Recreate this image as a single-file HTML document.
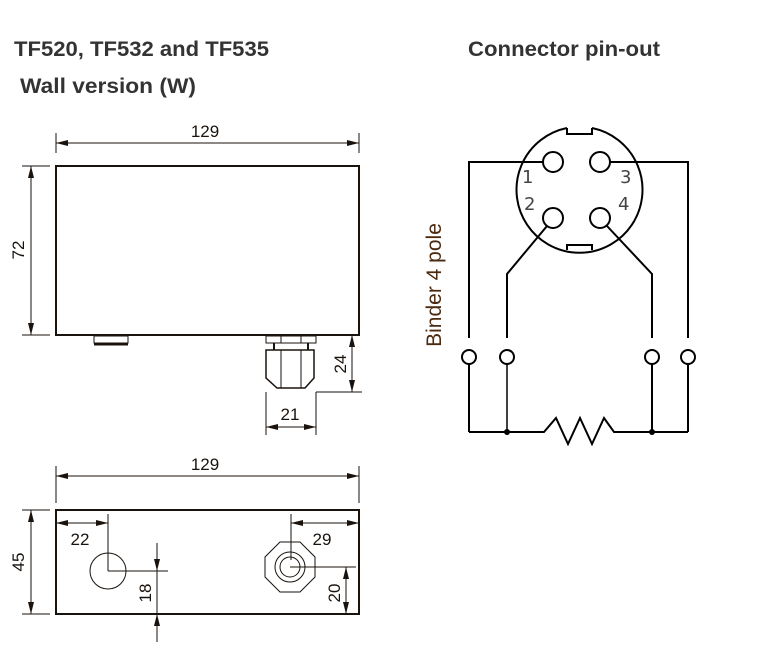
<!DOCTYPE html>
<html><head><meta charset="utf-8"><style>
body{margin:0;background:#fff;}
svg{display:block;}
.t{font-family:"Liberation Sans",sans-serif;font-weight:bold;font-size:21px;fill:#333;}
.d{font-family:"Liberation Sans",sans-serif;font-size:17px;fill:#1a120c;}
</style></head><body>
<svg width="768" height="658" viewBox="0 0 768 658" xmlns="http://www.w3.org/2000/svg">
<defs>
<marker id="a" markerWidth="12" markerHeight="6" refX="12" refY="3" orient="auto-start-reverse" markerUnits="userSpaceOnUse"><path d="M0,0 L12,3 L0,6z" fill="#1a120c"/></marker>
</defs>
<text class="t" x="14" y="56" textLength="255" lengthAdjust="spacingAndGlyphs">TF520, TF532 and TF535</text>
<text class="t" x="20" y="93" textLength="176" lengthAdjust="spacingAndGlyphs">Wall version (W)</text>
<text class="t" x="468" y="56" textLength="192" lengthAdjust="spacingAndGlyphs">Connector pin-out</text>
<g stroke="#1a120c" fill="none" stroke-width="1">
<line x1="56" y1="133" x2="56" y2="153"/><line x1="359" y1="133" x2="359" y2="153"/>
<line x1="56" y1="143" x2="359" y2="143" marker-start="url(#a)" marker-end="url(#a)"/>
<rect x="56" y="166" width="303" height="169" stroke-width="2"/>
<line x1="22" y1="166" x2="50" y2="166"/><line x1="22" y1="335" x2="50" y2="335"/>
<line x1="31" y1="166" x2="31" y2="335" marker-start="url(#a)" marker-end="url(#a)"/>
<rect x="94" y="336" width="34" height="7"/><line x1="94" y1="344" x2="128" y2="344" stroke-width="3"/>
<rect x="266" y="336" width="50" height="7"/><line x1="281" y1="336" x2="281" y2="343"/><line x1="301" y1="336" x2="301" y2="343"/>
<line x1="274" y1="343" x2="274" y2="350" stroke-width="2"/><line x1="308" y1="343" x2="308" y2="350" stroke-width="2"/>
<path d="M266,350 L314,350 L314,378 L305,388 L277,388 L266,378Z" stroke-width="1.5"/>
<line x1="281" y1="350" x2="281" y2="388"/><line x1="301" y1="350" x2="301" y2="388"/>
<line x1="316" y1="392" x2="362" y2="392"/>
<line x1="352" y1="335" x2="352" y2="392" marker-start="url(#a)" marker-end="url(#a)"/>
<line x1="266" y1="392" x2="266" y2="435"/><line x1="316" y1="392" x2="316" y2="435"/>
<line x1="266" y1="427" x2="316" y2="427" marker-start="url(#a)" marker-end="url(#a)"/>
<line x1="56" y1="466" x2="56" y2="503"/><line x1="359" y1="466" x2="359" y2="503"/>
<line x1="56" y1="476" x2="359" y2="476" marker-start="url(#a)" marker-end="url(#a)"/>
<rect x="56" y="510" width="303" height="104" stroke-width="2"/>
<line x1="22" y1="510" x2="50" y2="510"/><line x1="22" y1="614" x2="50" y2="614"/>
<line x1="31" y1="510" x2="31" y2="614" marker-start="url(#a)" marker-end="url(#a)"/>
<line x1="56" y1="523" x2="108" y2="523" marker-start="url(#a)" marker-end="url(#a)"/>
<line x1="108" y1="514" x2="108" y2="571"/>
<circle cx="108" cy="571" r="18"/>
<line x1="108" y1="571" x2="168" y2="571"/>
<line x1="157" y1="543" x2="157" y2="571" marker-end="url(#a)"/>
<line x1="157" y1="642" x2="157" y2="614" marker-end="url(#a)"/>
<line x1="157" y1="571" x2="157" y2="614"/>
<line x1="291" y1="514" x2="291" y2="560"/>
<line x1="291" y1="523" x2="359" y2="523" marker-start="url(#a)" marker-end="url(#a)"/>
<polygon points="280,542 300,542 315,557 315,577 300,592 280,592 265,577 265,557"/>
<circle cx="290" cy="567" r="15"/><circle cx="290" cy="567" r="10"/>
<line x1="290" y1="567" x2="356" y2="567"/>
<line x1="346" y1="567" x2="346" y2="614" marker-start="url(#a)" marker-end="url(#a)"/>
</g>
<text class="d" x="205" y="137" text-anchor="middle">129</text>
<text class="d" x="205" y="470" text-anchor="middle">129</text>
<text class="d" transform="translate(24,250) rotate(-90)" text-anchor="middle">72</text>
<text class="d" transform="translate(24,562) rotate(-90)" text-anchor="middle">45</text>
<text class="d" transform="translate(346,364) rotate(-90)" text-anchor="middle">24</text>
<text class="d" x="290" y="420" text-anchor="middle">21</text>
<text class="d" x="80" y="545" text-anchor="middle">22</text>
<text class="d" x="322" y="545" text-anchor="middle">29</text>
<text class="d" transform="translate(151,593) rotate(-90)" text-anchor="middle">18</text>
<text class="d" transform="translate(340,593) rotate(-90)" text-anchor="middle">20</text>
<g stroke="#000" fill="none" stroke-width="2">
<path d="M567,128 A63,63 0 1,0 592,128" />
<path d="M567,128 L567,134 L592,134 L592,128"/>
<path d="M567,250 L567,245 L592,245 L592,250"/>
<circle cx="553" cy="162" r="10"/><circle cx="600" cy="162" r="10"/>
<circle cx="553" cy="218" r="10"/><circle cx="600" cy="218" r="10"/>
<path d="M543,162 L469,162 L469,338"/>
<path d="M610,162 L688,162 L688,338"/>
<path d="M547,226 L507,274 L507,338"/>
<path d="M607,226 L652,274 L652,338"/>
<circle cx="469" cy="357" r="7"/><circle cx="507" cy="357" r="7"/>
<circle cx="652" cy="357" r="7"/><circle cx="688" cy="357" r="7"/>
<line x1="469" y1="364" x2="469" y2="432"/><line x1="507" y1="364" x2="507" y2="432" stroke-width="1.5"/>
<line x1="652" y1="364" x2="652" y2="432"/><line x1="688" y1="364" x2="688" y2="432"/>
<path d="M469,432 L544,432 L556,418 L568,444 L580,418 L592,444 L604,418 L614,432 L688,432"/>
</g>
<circle cx="507" cy="432" r="3" fill="#000"/><circle cx="652" cy="432" r="3" fill="#000"/>
<g font-family="'DejaVu Sans',sans-serif" font-size="18" fill="#444">
<text x="522" y="183">1</text><text x="620" y="183">3</text>
<text x="524" y="210">2</text><text x="618" y="210">4</text>
</g>
<text transform="translate(441,285) rotate(-90)" text-anchor="middle" font-family="'Liberation Sans',sans-serif" font-size="21" fill="#4a2a10">Binder 4 pole</text>
</svg>
</body></html>
